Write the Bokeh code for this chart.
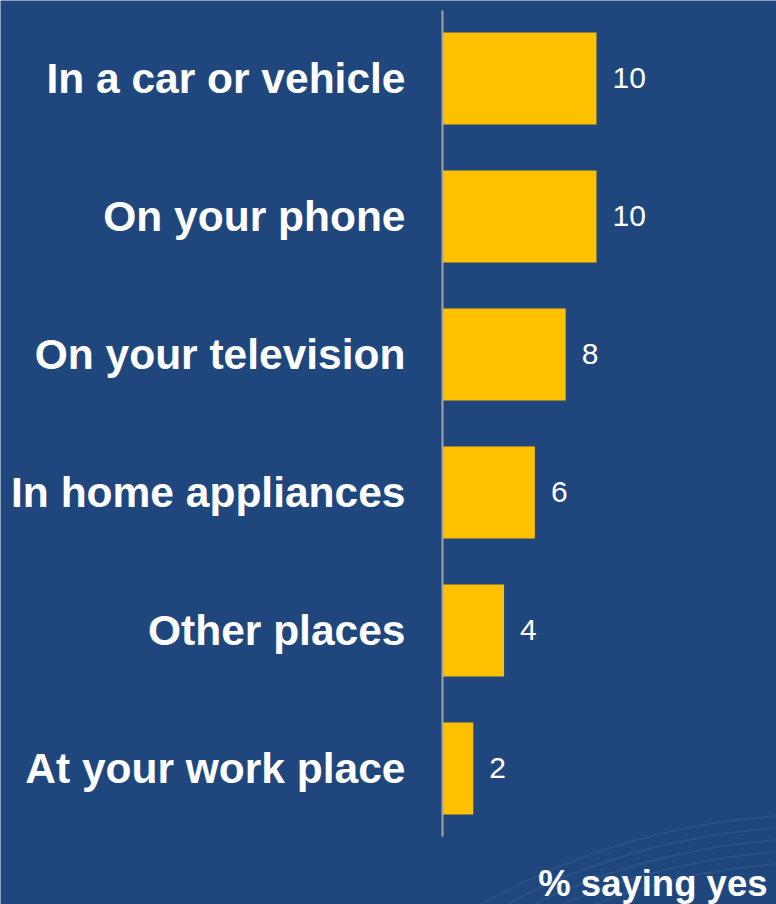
from bokeh.plotting import figure
from bokeh.models import Range1d, ColumnDataSource, Label
from bokeh.core.properties import value
from bokeh.embed import file_html
from bokeh.resources import INLINE

categories = ["In a car or vehicle", "On your phone", "On your television",
              "In home appliances", "Other places", "At your work place"]
values = [10, 10, 8, 6, 4, 2]
value_labels = [str(v) for v in values]
axis_title = "% saying yes"

BG = "#1F477D"
GOLD = "#FFC000"

n = len(categories)
ypos = [n - 1 - i for i in range(n)]

src = ColumnDataSource(dict(cat=categories, val=values, lab=value_labels, y=ypos,
                            zero=[0] * n))

p = figure(width=776, height=904, output_backend="svg", toolbar_location=None,
           x_range=Range1d(-28.70, 21.69), y_range=Range1d(-0.986, 5.565),
           x_axis_location=None, y_axis_location=None,
           min_border=0, min_border_left=0, min_border_right=0,
           min_border_top=0, min_border_bottom=0)
p.background_fill_color = BG
p.border_fill_color = BG
p.outline_line_color = None
p.grid.visible = False

# faint decorative arcs (bottom right)
for r in [685, 673, 661, 649, 637]:
    p.arc(x=[24.55], y=[-5.30], radius=r, radius_units="screen",
          start_angle=1.52, end_angle=2.2,
          line_color="white", line_alpha=0.06, line_width=2)

p.hbar(y="y", left="zero", right="val", height=0.667, source=src,
       fill_color=GOLD, line_color=None)

# vertical axis line
p.segment(x0=[0], y0=[-0.493], x1=[0], y1=[5.493], line_color="#A6A6A6", line_width=2)

p.text(x="val", y="y", text="lab", source=src, x_offset=16,
       text_align="left", text_baseline="middle", text_color="white",
       text_font=value("Liberation Sans"), text_font_size="30px")

p.text(x="zero", y="y", text="cat", source=src, x_offset=-37,
       text_align="right", text_baseline="middle", text_color="white",
       text_font=value("Liberation Sans"), text_font_style="bold",
       text_font_size="42.5px")

p.add_layout(Label(x=767, y=21, x_units="screen", y_units="screen", text=axis_title,
                   text_align="right", text_baseline="alphabetic", text_color="white",
                   text_font="Liberation Sans", text_font_style="bold",
                   text_font_size="36.5px"))

open("out.html", "w").write(file_html(p, INLINE))
